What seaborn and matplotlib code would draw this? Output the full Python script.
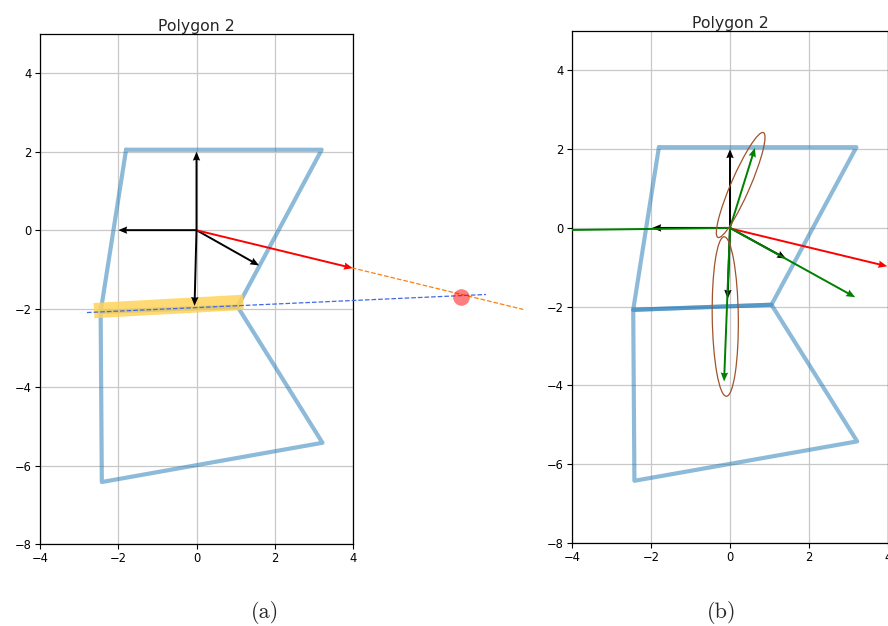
import numpy as np
import seaborn as sns
import matplotlib.pyplot as plt
from matplotlib.patches import Ellipse

# polygon vertices (two quads sharing the middle edge)
top_x = [-1.8, 3.2, 1.05, -2.45, -1.8]
top_y = [2.05, 2.05, -1.95, -2.08, 2.05]
bot_x = [-2.45, 1.05, 3.22, -2.42, -2.45]
bot_y = [-2.08, -1.95, -5.42, -6.42, -2.08]

# black basis arrows from origin
black_u = [0.0, -2.0, -0.05, 1.6]
black_v = [2.0, 0.0, -1.93, -0.9]
black_u_b = [0.0, -1.97, -0.06, 1.42]
black_v_b = [2.0, 0.0, -1.8, -0.78]

# red direction arrow
red_u, red_v = 3.97, -0.96

# green arrows in (b)
green_u = [0.63, -4.6, -0.15, 3.17]
green_v = [2.03, -0.06, -3.9, -1.76]

# extension lines and intersection (a)
orange_x = [3.97, 8.35]
orange_y = [-0.96, -2.02]
blue_x = [-2.8, 7.4]
blue_y = [-2.1, -1.64]
yellow_x = [-2.62, 1.2]
yellow_y = [-2.05, -1.84]
hit_x, hit_y = 6.75, -1.7

# ellipses in (b): center, width, height, angle
ell_cx = [0.27, -0.12]
ell_cy = [1.09, -2.25]
ell_w = [0.48, 0.66]
ell_h = [2.9, 4.05]
ell_ang = [-23.4, 0.8]

sns.set_style('ticks', {'axes.grid': True, 'grid.color': '#c8c8c8',
                        'axes.edgecolor': 'black', 'xtick.color': 'black',
                        'ytick.color': 'black'})
plt.rcParams['font.family'] = ['DejaVu Sans']
plt.rcParams['axes.unicode_minus'] = True

fig = plt.figure(figsize=(8.88, 6.26), dpi=100)
ax1 = fig.add_axes([40 / 888, 82 / 626, 313 / 888, 510 / 626])
ax2 = fig.add_axes([572 / 888, 83 / 626, 316 / 888, 512 / 626])

poly_kw = dict(color='C0', alpha=0.5, lw=3, sort=False, estimator=None, legend=False)

for ax in (ax1, ax2):
    sns.lineplot(x=top_x, y=top_y, ax=ax, **poly_kw)
    sns.lineplot(x=bot_x, y=bot_y, ax=ax, **poly_kw)
    ax.set_xlim(-4, 4)
    ax.set_ylim(-8, 5)
    ax.set_xticks([-4, -2, 0, 2, 4])
    ax.set_yticks([-8, -6, -4, -2, 0, 2, 4])
    ax.tick_params(labelsize=8.3, length=3.5, width=0.8, pad=2.5)
    ax.grid(True, lw=0.9, color='#c8c8c8')
    ax.set_title('Polygon 2', fontsize=11.3, pad=2.5)
    for s in ax.spines.values():
        s.set_linewidth(0.9)

q_kw = dict(angles='xy', scale_units='xy', scale=1, width=0.0062,
            headwidth=3.8, headlength=4.6, headaxislength=4.2, zorder=4)

# (a)
ax1.plot(yellow_x, yellow_y, color='#ffd35a', lw=11, alpha=0.85,
         solid_capstyle='butt', zorder=3)
ax1.quiver([0] * 4, [0] * 4, black_u, black_v, color='black', **q_kw)
ax1.quiver(0, 0, red_u, red_v, color='red', **q_kw)
ax1.plot(orange_x, orange_y, '--', color='C1', lw=0.9, clip_on=False, zorder=5)
ax1.plot(blue_x, blue_y, '--', color='royalblue', lw=0.9, clip_on=False, zorder=5)
ax1.plot(hit_x, hit_y, 'o', color='red', alpha=0.5, ms=12, mec='none',
         clip_on=False, zorder=6)

# (b)
ax2.quiver([0] * 4, [0] * 4, black_u_b, black_v_b, color='black', **q_kw)
ax2.quiver(0, 0, red_u, red_v, color='red', **q_kw)
ax2.quiver([0] * 4, [0] * 4, green_u, green_v, color='green', **q_kw)
for cx, cy, w, h, a in zip(ell_cx, ell_cy, ell_w, ell_h, ell_ang):
    ax2.add_patch(Ellipse((cx, cy), w, h, angle=a, fill=False,
                          edgecolor='sienna', lw=0.9, zorder=5))

fig.text(265 / 888, 0.021, '(a)', family='cmr10', fontsize=16,
         ha='center', va='center')
fig.text(722 / 888, 0.021, '(b)', family='cmr10', fontsize=16,
         ha='center', va='center')

fig.savefig('out.png', dpi=100)
